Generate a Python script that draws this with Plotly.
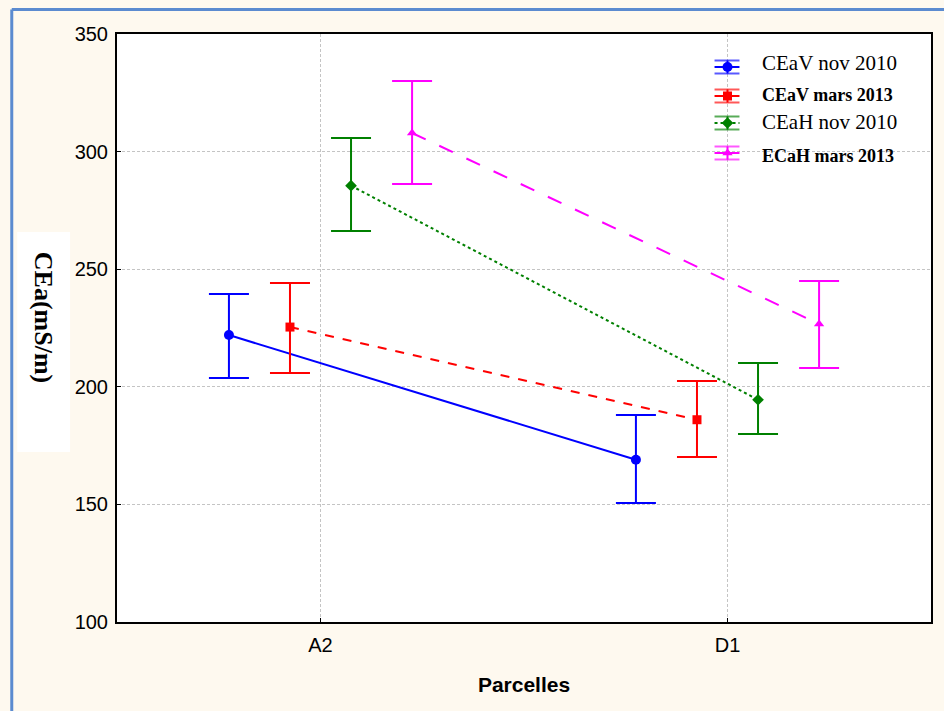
import plotly.graph_objects as go

# Field plots and group positions along the x axis
parcelles = ["A2", "D1"]
parcelle_pos = [0, 1]

# Apparent electrical conductivity (mS/m): means and confidence limits
series_names = ["CEaV nov 2010", "CEaV mars 2013", "CEaH nov 2010", "ECaH mars 2013"]
ceav_nov2010 = [222.0, 169.0]
ceav_nov2010_hi = [239.5, 188.0]
ceav_nov2010_lo = [203.7, 150.6]

ceav_mars2013 = [225.4, 186.0]
ceav_mars2013_hi = [244.1, 202.5]
ceav_mars2013_lo = [205.9, 170.2]

ceah_nov2010 = [285.5, 194.5]
ceah_nov2010_hi = [305.8, 210.1]
ceah_nov2010_lo = [266.2, 179.9]

ecah_mars2013 = [307.9, 226.7]
ecah_mars2013_hi = [330.0, 245.0]
ecah_mars2013_lo = [286.2, 208.0]

y_ticks = [100, 150, 200, 250, 300, 350]

series = [
    (series_names[0], ceav_nov2010, ceav_nov2010_hi, ceav_nov2010_lo, "#0000ff", "solid", "circle", 10, -0.225, False),
    (series_names[1], ceav_mars2013, ceav_mars2013_hi, ceav_mars2013_lo, "#ff0000", "dash", "square", 9, -0.075, True),
    (series_names[2], ceah_nov2010, ceah_nov2010_hi, ceah_nov2010_lo, "#008000", "dot", "diamond", 9, 0.075, False),
    (series_names[3], ecah_mars2013, ecah_mars2013_hi, ecah_mars2013_lo, "#ff00ff", "longdash", "triangle-up", 9, 0.225, True),
]

# Plot-area geometry in pixels, used to place the hand-built legend
W, H = 944, 711
ML, MR, MT, MB = 117, 11, 34, 89
PW, PH = W - ML - MR, H - MT - MB


def px_x(px):
    return (px - ML) / PW


def px_y(py):
    return (H - MB - py) / PH


fig = go.Figure()
for i, (name, mean, hi, lo, color, dash, symbol, msize, offset, bold) in enumerate(series):
    xs = [p + offset for p in parcelle_pos]
    plus = [h - m for h, m in zip(hi, mean)]
    minus = [m - l for m, l in zip(mean, lo)]
    fig.add_trace(go.Scatter(
        x=xs, y=mean, name=name, mode="lines+markers", showlegend=False,
        line=dict(color=color, width=2, dash=dash),
        marker=dict(color=color, symbol=symbol, size=msize),
        error_y=dict(type="data", symmetric=False, array=plus, arrayminus=minus,
                     color=color, thickness=2, width=20),
    ))

# Legend: error-bar glyph, marker and label for each series
legend_glyph_y = [67, 96, 123, 153]
legend_text_y = [63, 95, 122, 156]
gx0, gx1, gxc = 716, 741, 729
for (name, mean, hi, lo, color, dash, symbol, msize, offset, bold), gy, ty in zip(series, legend_glyph_y, legend_text_y):
    for cap in (gy - 6.5, gy + 6.5):
        fig.add_shape(type="line", xref="paper", yref="paper",
                      x0=px_x(gx0), x1=px_x(gx1), y0=px_y(cap), y1=px_y(cap),
                      line=dict(color=color, width=2), opacity=0.65)
    fig.add_shape(type="line", xref="paper", yref="paper",
                  x0=px_x(gxc), x1=px_x(gxc), y0=px_y(gy - 6.5), y1=px_y(gy + 6.5),
                  line=dict(color=color, width=2))
    fig.add_shape(type="line", xref="paper", yref="paper",
                  x0=px_x(gx0), x1=px_x(gx1), y0=px_y(gy), y1=px_y(gy),
                  line=dict(color=color, width=2, dash="dot" if dash == "dot" else "solid"))
    fig.add_trace(go.Scatter(
        x=[px_x(gxc)], y=[px_y(gy)], xaxis="x2", yaxis="y2", mode="markers",
        marker=dict(color=color, symbol=symbol, size=msize), showlegend=False,
        hoverinfo="skip",
    ))
    if bold:
        text, size = f"<b>{name}</b>", 18
    else:
        text, size = name, 21
    fig.add_annotation(
        xref="paper", yref="paper", x=px_x(762), y=px_y(ty),
        xanchor="left", yanchor="middle", text=text, showarrow=False,
        font=dict(family="Liberation Serif", size=size, color="black"),
    )

# Y-axis title: white box with the label near its top, reading top to bottom
fig.add_shape(type="rect", xref="paper", yref="paper",
              x0=px_x(17), x1=px_x(70), y0=px_y(452), y1=px_y(232),
              fillcolor="white", line=dict(width=0))
fig.add_annotation(
    xref="paper", yref="paper", x=px_x(44), y=px_y(317),
    xanchor="center", yanchor="middle",
    text="<b>CEa(mS/m)</b>", textangle=90, showarrow=False,
    font=dict(family="Liberation Serif", size=26, color="black"),
)

# Outer frame line along the left and top edges
fig.add_shape(type="line", xref="paper", yref="paper",
              x0=px_x(11.5), y0=px_y(9.5), x1=px_x(960), y1=px_y(9.5),
              line=dict(color="#5b8bd0", width=3))
fig.add_shape(type="line", xref="paper", yref="paper",
              x0=px_x(11.5), y0=px_y(730), x1=px_x(11.5), y1=px_y(9.5),
              line=dict(color="#5b8bd0", width=3))

grid_color = "#c4c4c4"
fig.update_layout(
    width=W, height=H,
    margin=dict(l=ML, r=MR, t=MT, b=MB),
    paper_bgcolor="#fef9ef",
    plot_bgcolor="white",
    font=dict(family="Liberation Sans, Arial", size=20, color="black"),
    showlegend=False,
    xaxis=dict(
        range=[-0.5, 1.5], tickvals=parcelle_pos, ticktext=parcelles,
        showgrid=True, gridcolor=grid_color, griddash="3px,2px", gridwidth=1,
        showline=True, linecolor="black", linewidth=2, mirror=True,
        ticks="inside", ticklen=4, tickcolor="black", zeroline=False,
        ticklabelstandoff=4,
        title=dict(text="<b>Parcelles</b>", font=dict(family="Liberation Sans, Arial", size=21), standoff=22),
    ),
    yaxis=dict(
        range=[100, 350], tickvals=y_ticks,
        showgrid=True, gridcolor=grid_color, griddash="3px,2px", gridwidth=1,
        showline=True, linecolor="black", linewidth=2, mirror=True,
        ticks="inside", ticklen=4, tickcolor="black", zeroline=False,
        ticklabelstandoff=3,
    ),
    xaxis2=dict(overlaying="x", range=[0, 1], visible=False),
    yaxis2=dict(overlaying="y", range=[0, 1], visible=False),
)

fig.write_html("out.html")
